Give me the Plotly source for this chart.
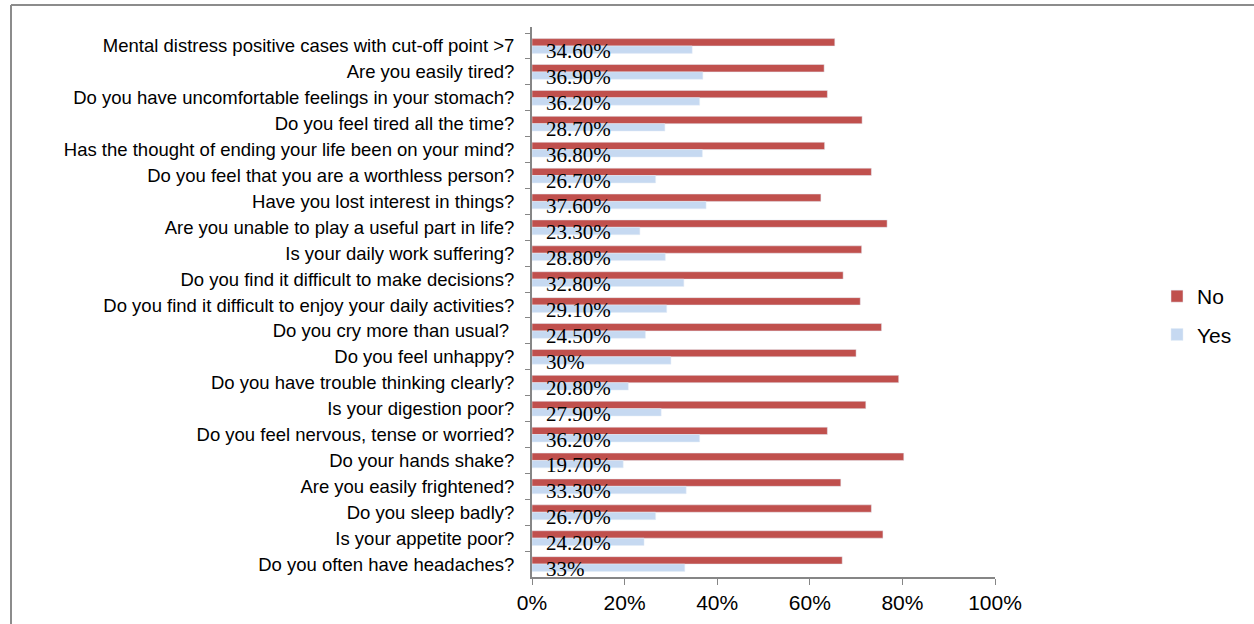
import plotly.graph_objects as go

categories = [
    "Mental distress positive cases with cut-off point >7",
    "Are you easily tired?",
    "Do you have uncomfortable feelings in your stomach?",
    "Do you feel tired all the time?",
    "Has the thought of ending your life been on your mind?",
    "Do you feel that you are a worthless person?",
    "Have you lost interest in things?",
    "Are you unable to play a useful part in life?",
    "Is your daily work suffering?",
    "Do you find it difficult to make decisions?",
    "Do you find it difficult to enjoy your daily activities?",
    "Do you cry more than usual? ",
    "Do you feel unhappy?",
    "Do you have trouble thinking clearly?",
    "Is your digestion poor?",
    "Do you feel nervous, tense or worried?",
    "Do your hands shake?",
    "Are you easily frightened?",
    "Do you sleep badly?",
    "Is your appetite poor?",
    "Do you often have headaches?",
]
yes_pct = [34.6, 36.9, 36.2, 28.7, 36.8, 26.7, 37.6, 23.3, 28.8, 32.8, 29.1,
           24.5, 30.0, 20.8, 27.9, 36.2, 19.7, 33.3, 26.7, 24.2, 33.0]
no_pct = [65.4, 63.1, 63.8, 71.3, 63.2, 73.3, 62.4, 76.7, 71.2, 67.2, 70.9,
          75.5, 70.0, 79.2, 72.1, 63.8, 80.3, 66.7, 73.3, 75.8, 67.0]
yes_labels = ["34.60%", "36.90%", "36.20%", "28.70%", "36.80%", "26.70%", "37.60%",
              "23.30%", "28.80%", "32.80%", "29.10%", "24.50%", "30%", "20.80%",
              "27.90%", "36.20%", "19.70%", "33.30%", "26.70%", "24.20%", "33%"]

W, H = 1254, 624
L, R, T, B = 532, 259, 27, 47
PW, PH = W - L - R, H - T - B

def px(x):
    return (x - L) / PW

def py(y):
    return (H - B - y) / PH

fig = go.Figure()
fig.add_trace(go.Bar(
    y=categories, x=[v / 100 for v in no_pct], orientation="h", name="No",
    marker=dict(color="#C0504D"), legendgroup="a", hoverinfo="x+y",
))
fig.add_trace(go.Bar(
    y=categories, x=[v / 100 for v in yes_pct], orientation="h", name="Yes",
    marker=dict(color="#C6D9F1"), legendgroup="b", hoverinfo="x+y",
))

annotations = []
for c, t in zip(categories, yes_labels):
    annotations.append(dict(
        x=0, y=c, xref="x", yref="y", text=t, showarrow=False,
        xanchor="left", yanchor="middle", xshift=12, yshift=-5,
        font=dict(family="Liberation Serif", size=21, color="#000000"),
    ))

shapes = [
    dict(type="line", xref="paper", yref="paper",
         x0=px(11), y0=py(624), x1=px(11), y1=py(5),
         line=dict(color="#8C8C8C", width=2)),
    dict(type="line", xref="paper", yref="paper",
         x0=px(11), y0=py(5), x1=px(1254), y1=py(5),
         line=dict(color="#8C8C8C", width=2)),
]

fig.update_layout(
    width=W, height=H,
    margin=dict(l=L, r=R, t=T, b=B, pad=0, autoexpand=False),
    paper_bgcolor="white", plot_bgcolor="white",
    barmode="group", bargap=0.43, bargroupgap=0,
    font=dict(family="Liberation Sans", color="#000000"),
    showlegend=True,
    legend=dict(
        xref="container", yref="container", x=1157 / W, y=1 - 276 / H,
        xanchor="left", yanchor="top",
        font=dict(family="Liberation Sans", size=21, color="#000000"),
        tracegroupgap=8, traceorder="grouped",
        bgcolor="rgba(0,0,0,0)",
    ),
    annotations=annotations,
    shapes=shapes,
)
fig.update_yaxes(
    autorange="reversed", tickson="boundaries", ticks="outside", ticklen=5,
    tickcolor="#868686", showline=True, linecolor="#868686", linewidth=2,
    showgrid=False, tickfont=dict(family="Liberation Sans", size=18.5, color="#000000"),
    ticklabelstandoff=12, automargin=False,
)
fig.update_xaxes(
    range=[0, 1], dtick=0.2, tickformat=".0%", ticks="outside", ticklen=6,
    tickcolor="#868686", showline=True, linecolor="#868686", linewidth=2,
    showgrid=False, zeroline=False, automargin=False,
    tickfont=dict(family="Liberation Sans", size=21, color="#000000"),
)

fig.write_html("out.html")
